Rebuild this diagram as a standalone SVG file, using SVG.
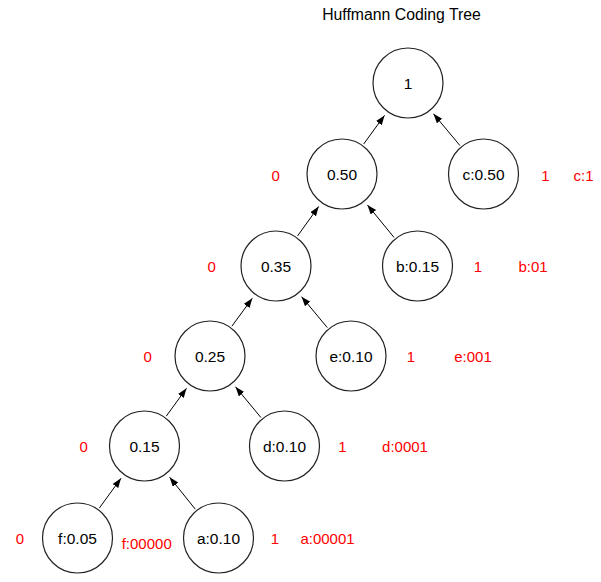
<svg xmlns="http://www.w3.org/2000/svg" width="601" height="582" viewBox="0 0 601 582">
<style>
.node circle{fill:#fff;stroke:#222;stroke-width:1.2}
.node text{font-family:"Liberation Sans",Arial,sans-serif;font-size:15.5px;fill:#000;text-anchor:middle}
.lbl{font-family:"Liberation Sans",Arial,sans-serif;font-size:15px;fill:#ff0000;text-anchor:middle}
.title{font-family:"Liberation Sans",Arial,sans-serif;font-size:15.8px;fill:#000;text-anchor:middle}
.edges line{stroke:#000;stroke-width:1;marker-end:url(#arr)}
</style>
<defs>
<marker id="arr" markerUnits="userSpaceOnUse" markerWidth="10" markerHeight="8" refX="9.5" refY="3.5" orient="auto">
<path d="M0,0 L9.5,3.5 L0,7 z" fill="#000"/>
</marker>
</defs>
<rect width="601" height="582" fill="#fff"/>
<text class="title" x="401.5" y="20">Huffmann Coding Tree</text>
<g class="edges">
<line x1="99.3" y1="508.1" x2="121.0" y2="478.3"/>
<line x1="195.3" y1="509.2" x2="169.6" y2="477.2"/>
<line x1="166.3" y1="416.1" x2="186.5" y2="388.3"/>
<line x1="260.9" y1="417.5" x2="235.5" y2="386.8"/>
<line x1="231.9" y1="326.2" x2="252.3" y2="298.3"/>
<line x1="327.3" y1="327.6" x2="301.6" y2="296.7"/>
<line x1="297.6" y1="235.9" x2="318.7" y2="206.5"/>
<line x1="394" y1="237.4" x2="367.4" y2="204.9"/>
<line x1="363.7" y1="144.0" x2="384.5" y2="115.4"/>
<line x1="459.9" y1="145.5" x2="433.5" y2="113.8"/>
</g>
<g id="n1" class="node"><circle cx="408" cy="83" r="35"/><text x="408" y="88.5">1</text></g>
<g id="n050" class="node"><circle cx="342" cy="174" r="35"/><text x="342" y="179.5">0.50</text></g>
<g id="nc" class="node"><circle cx="483.5" cy="174" r="35"/><text x="483.5" y="179.5">c:0.50</text></g>
<g id="n035" class="node"><circle cx="276" cy="266" r="35"/><text x="276" y="271.5">0.35</text></g>
<g id="nb" class="node"><circle cx="417.5" cy="266" r="35"/><text x="417.5" y="271.5">b:0.15</text></g>
<g id="n025" class="node"><circle cx="210" cy="356" r="35"/><text x="210" y="361.5">0.25</text></g>
<g id="ne" class="node"><circle cx="351" cy="356" r="35"/><text x="351" y="361.5">e:0.10</text></g>
<g id="n015" class="node"><circle cx="144.5" cy="446" r="35"/><text x="144.5" y="451.5">0.15</text></g>
<g id="nd" class="node"><circle cx="284.5" cy="446" r="35"/><text x="284.5" y="451.5">d:0.10</text></g>
<g id="nf" class="node"><circle cx="77.5" cy="538" r="35"/><text x="77.5" y="543.5">f:0.05</text></g>
<g id="na" class="node"><circle cx="218.5" cy="538" r="35"/><text x="218.5" y="543.5">a:0.10</text></g>
<g id="labels">
<text class="lbl" x="275.7" y="180.5">0</text>
<text class="lbl" x="545.5" y="180.5">1</text>
<text class="lbl" x="583.5" y="180.5">c:1</text>
<text class="lbl" x="211.7" y="272">0</text>
<text class="lbl" x="478" y="272">1</text>
<text class="lbl" x="533" y="272">b:01</text>
<text class="lbl" x="147.7" y="362">0</text>
<text class="lbl" x="411" y="362">1</text>
<text class="lbl" x="473" y="362">e:001</text>
<text class="lbl" x="83.7" y="452">0</text>
<text class="lbl" x="342.5" y="452">1</text>
<text class="lbl" x="405" y="452">d:0001</text>
<text class="lbl" x="20" y="544">0</text>
<text class="lbl" x="146.7" y="548.5">f:00000</text>
<text class="lbl" x="275" y="544">1</text>
<text class="lbl" x="327.5" y="544">a:00001</text>
</g>
</svg>
